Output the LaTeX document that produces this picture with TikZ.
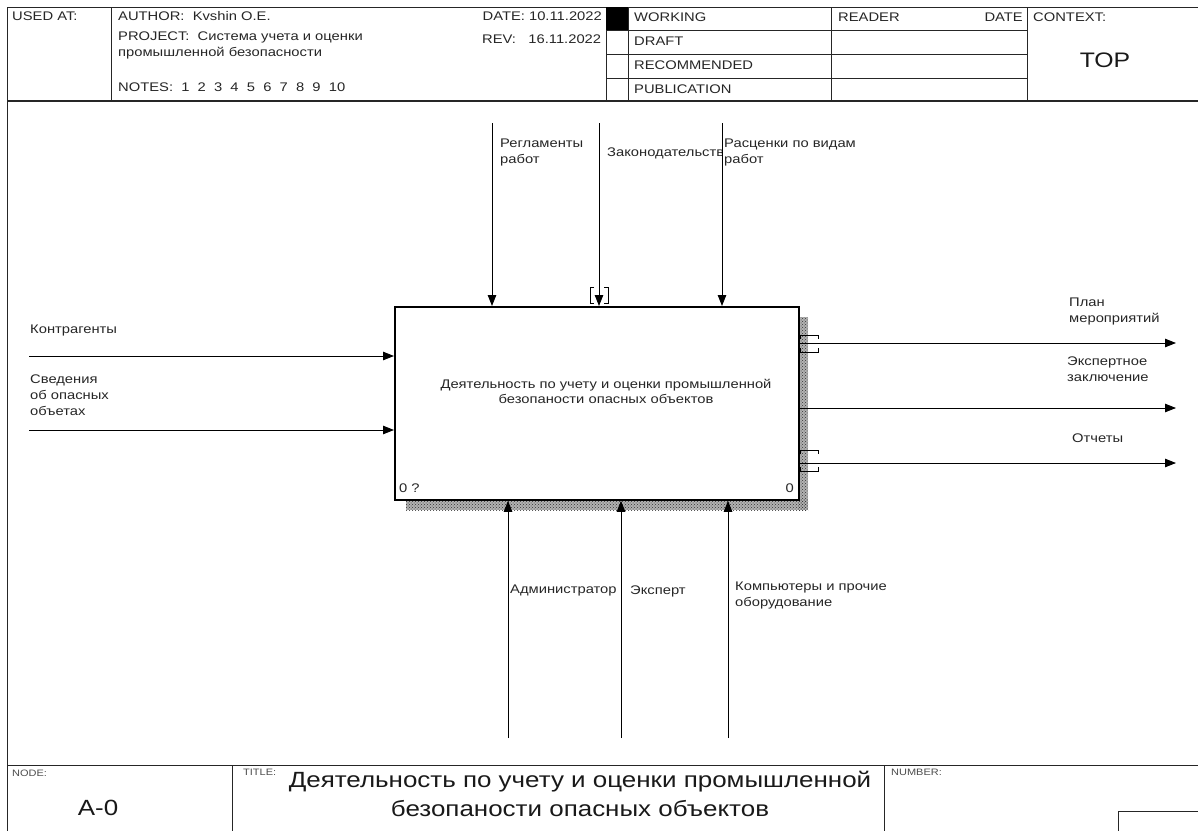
\documentclass[tikz,border=0pt]{standalone}
\usepackage{fontspec}
\setmainfont{Liberation Sans}[FakeStretch=1.18]
\usetikzlibrary{arrows.meta,patterns}
\tikzset{
  grid/.style={line width=0.9pt, draw=black!85},
  txt/.style={inner sep=0pt, text=black!85, align=left, font=\fontsize{12.5}{16}\selectfont},
  small/.style={inner sep=0pt, text=black!70, font=\fontsize{9.3}{11}\selectfont},
  arr/.style={line width=0.9pt, -{Triangle[length=11pt,width=8.5pt]}},
  ln/.style={line width=0.9pt},
  boxstyle/.style={draw, line width=1.8pt, fill=white, inner sep=0pt, minimum width=404pt, minimum height=193pt, anchor=north west},
  shadowbase/.style={fill=black!30},
  shadow/.style={pattern=crosshatch dots, pattern color=black!80},
}
\begin{document}
\begin{tikzpicture}[x=1pt,y=-1pt]
\useasboundingbox (0,0) rectangle (1198,830);
% ---------- frame & header ----------
\draw[grid] (1199,7) -- (7,7) -- (7,831);
\draw[grid, line width=1.4pt] (7,101) -- (1199,101);
\foreach \x in {111,606,628,831,1027} \draw[grid] (\x,7) -- (\x,101);
\foreach \y in {30,54,78} \draw[grid] (606,\y) -- (1027,\y);
\fill[black] (606,7) rectangle (628,30);
\node[txt, anchor=west] (usedat) at (12,16) {USED AT:};
\node[txt, anchor=west] (author) at (118,16) {AUTHOR:~~Kvshin O.E.};
\node[txt, anchor=west] (project) at (118,45.5) {PROJECT:~~Система учета и оценки\\промышленной безопасности};
\node[txt, anchor=west] (notes) at (118,87) {NOTES:~~1~~2~~3~~4~~5~~6~~7~~8~~9~~10};
\node[txt, anchor=east] (date) at (602,16) {DATE: 10.11.2022};
\node[txt, anchor=west] (rev) at (482,39) {REV:~~~16.11.2022};
\node[txt, anchor=west] (working) at (634,17) {WORKING};
\node[txt, anchor=west] (draft) at (634,41) {DRAFT};
\node[txt, anchor=west] (recommended) at (634,65) {RECOMMENDED};
\node[txt, anchor=west] (publication) at (634,89) {PUBLICATION};
\node[txt, anchor=west] (reader) at (838,17) {READER};
\node[txt, anchor=east] (rdate) at (1023,17) {DATE};
\node[txt, anchor=west] (context) at (1033,17) {CONTEXT:};
\node[inner sep=0pt, text=black!90, font=\fontsize{21}{24}\selectfont] (top) at (1105,60) {TOP};
% ---------- footer ----------
\draw[grid] (7,765) -- (1199,765);
\draw[grid] (232,765) -- (232,831);
\draw[grid] (884,765) -- (884,831);
\draw[grid] (1199,811) -- (1118,811) -- (1118,831);
\node[small, anchor=west] (nodelab) at (12,773) {NODE:};
\node[inner sep=0pt, text=black!90, font=\fontsize{22}{26}\selectfont] (nodeid) at (98,808) {A-0};
\node[small, anchor=west] (titlelab) at (243,772) {TITLE:};
\node[small, anchor=west] (numberlab) at (891,772) {NUMBER:};
\node[inner sep=0pt, text=black!90, align=center, font=\fontsize{22}{29}\selectfont] (title) at (580,794) {Деятельность по учету и оценки промышленной\\безопаности опасных объектов};
% ---------- activity box ----------
\fill[shadowbase] (798,317) rectangle (808,510);
\fill[shadowbase] (406,499) rectangle (808,510);
\fill[shadow] (798,317) rectangle (808,510);
\fill[shadow] (406,499) rectangle (808,510);
\node[boxstyle] (box) at (394,306) {};
\node[txt, align=center, font=\fontsize{12.5}{15}\selectfont] (boxtext) at (606,391) {Деятельность по учету и оценки промышленной\\безопаности опасных объектов};
\node[txt, anchor=west] (nr) at (399,488) {0 ?};
\node[txt, anchor=east] (nn) at (794,488) {0};
% ---------- controls ----------
\coordinate (c1) at (492,123);
\coordinate (c2) at (599,123);
\coordinate (c3) at (722,123);
\draw[arr] (c1) -- (c1 |- box.north);
\draw[arr] (c2) -- (c2 |- box.north);
\draw[arr] (c3) -- (c3 |- box.north);
\draw[ln] (594,287) -- (590,287) -- (590,303) -- (594,303);
\draw[ln] (604,287) -- (608,287) -- (608,303) -- (604,303);
\node[txt, anchor=west] (reg) at (500,152.5) {Регламенты\\работ};
\begin{scope}
\clip (603,130) rectangle (721,175);
\node[txt, anchor=west] (zak) at (607,153) {Законодательство};
\end{scope}
\node[txt, anchor=west] (ras) at (724,152.5) {Расценки по видам\\работ};
% ---------- inputs ----------
\coordinate (i1) at (29,356);
\coordinate (i2) at (29,430);
\draw[arr] (i1) -- (i1 -| box.west);
\draw[arr] (i2) -- (i2 -| box.west);
\node[txt, anchor=west] (kontr) at (30,330) {Контрагенты};
\node[txt, anchor=west] (sved) at (30,395) {Сведения\\об опасных\\объетах};
% ---------- outputs ----------
\coordinate (o1) at (1176,343);
\coordinate (o2) at (1176,408);
\coordinate (o3) at (1176,463);
\draw[arr] (box.east |- o1) -- (o1);
\draw[arr] (box.east |- o2) -- (o2);
\draw[arr] (box.east |- o3) -- (o3);
\draw[ln] (800,339) -- (800,335) -- (818,335) -- (818,339);
\draw[ln] (800,348) -- (800,352) -- (818,352) -- (818,348);
\draw[ln] (800,454) -- (800,450) -- (818,450) -- (818,454);
\draw[ln] (800,467) -- (800,471) -- (818,471) -- (818,467);
\node[txt, anchor=west] (plan) at (1069,311) {План\\мероприятий};
\node[txt, anchor=west] (exp) at (1067,369) {Экспертное\\заключение};
\node[txt, anchor=west] (otch) at (1072,438) {Отчеты};
% ---------- mechanisms ----------
\coordinate (m1) at (508,738);
\coordinate (m2) at (621,738);
\coordinate (m3) at (728,738);
\draw[arr] (m1) -- (m1 |- box.south);
\draw[arr] (m2) -- (m2 |- box.south);
\draw[arr] (m3) -- (m3 |- box.south);
\node[txt, anchor=west] (adm) at (510,590) {Администратор};
\node[txt, anchor=west] (eks) at (630,591) {Эксперт};
\node[txt, anchor=west] (comp) at (735,595) {Компьютеры и прочие\\оборудование};
\end{tikzpicture}
\end{document}
